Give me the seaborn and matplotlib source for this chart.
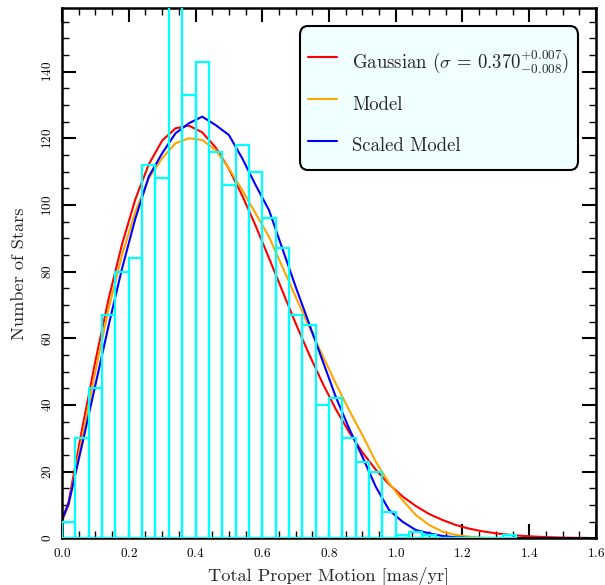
import matplotlib
matplotlib.use("Agg")
import matplotlib.pyplot as plt
import numpy as np
import seaborn as sns
from matplotlib.ticker import MultipleLocator

# histogram of total proper motions (counts per 0.04 mas/yr bin, left edges)
bin_left = [0.00, 0.04, 0.08, 0.12, 0.16, 0.20, 0.24, 0.28, 0.32, 0.36,
            0.40, 0.44, 0.48, 0.52, 0.56, 0.60, 0.64, 0.68, 0.72, 0.76,
            0.80, 0.84, 0.88, 0.92, 0.96, 1.00, 1.04, 1.08, 1.12, 1.16,
            1.20, 1.24, 1.28, 1.32]
counts = [5, 30, 45, 67, 80, 84, 112, 108, 175, 133,
          143, 116, 106, 118, 110, 96, 87, 67, 64, 40,
          42, 30, 23, 20, 8, 1, 2, 1, 0, 0,
          0, 0, 0, 1]

# fitted curves, sampled at the bin centres
curve_x = [0.00, 0.02, 0.06, 0.10, 0.14, 0.18, 0.22, 0.26, 0.30, 0.34,
           0.38, 0.42, 0.46, 0.50, 0.54, 0.58, 0.62, 0.66, 0.70, 0.74,
           0.78, 0.82, 0.86, 0.90, 0.94, 0.98, 1.02, 1.06, 1.10, 1.14,
           1.18, 1.22, 1.26, 1.30, 1.34, 1.38, 1.42, 1.46, 1.50, 1.54,
           1.58]
gaussian = [5.5, 11, 32.7, 53.2, 72, 88.3, 101.8, 112.2, 119.3, 123,
            123.8, 121.8, 117.3, 110.9, 102.8, 93.8, 84.1, 74.3, 64.5, 55.3,
            46.7, 38.8, 31.9, 25.8, 20.6, 16.2, 12.6, 9.7, 7.3, 5.5,
            4.0, 2.9, 2.1, 1.5, 1.05, 0.73, 0.5, 0.34, 0.22, 0.15,
            0.1]
model = [5, 10, 30, 50, 69, 85, 98, 108, 114, 118.5,
         120, 119.5, 116.5, 111, 104.5, 97.5, 90.5, 81.5, 72.5, 63.5,
         55, 46.5, 38.5, 31, 23, 16.5, 11.5, 7, 4, 2,
         1, 0.5, 0.2, 0.1, 0, 0, 0, 0, 0, 0,
         0]
scaled_model = [5.5, 10.5, 28, 46, 64, 81, 96, 108.5, 115.5, 121.5,
                124.5, 126.5, 124, 121, 114, 106, 98.5, 87, 75.5, 64.5,
                53.5, 42.5, 33, 24.5, 15.5, 8.5, 5, 2.5, 1.5, 0.7,
                0.3, 0.1, 0, 0, 0, 0, 0, 0, 0, 0,
                0]

sns.set_style("ticks")
plt.rcParams["font.family"] = ["cmr10", "DejaVu Serif"]
plt.rcParams["mathtext.fontset"] = "cm"
plt.rcParams["axes.formatter.use_mathtext"] = True
plt.rcParams["axes.unicode_minus"] = False

fig = plt.figure(figsize=(6.05, 5.85), dpi=100)
ax = fig.add_axes([0.1025, 0.0798, 0.8826, 0.906])

sns.lineplot(x=curve_x, y=gaussian, color="red", linewidth=1.5, ax=ax,
             label=r"Gaussian ($\sigma\,=\,0.370^{+0.007}_{-0.008}$)")
sns.lineplot(x=curve_x, y=model, color="orange", linewidth=1.5, ax=ax,
             label="Model")
sns.lineplot(x=curve_x, y=scaled_model, color="blue", linewidth=1.5, ax=ax,
             label="Scaled Model")

bin_centres = np.array(bin_left) + 0.02
sns.histplot(x=bin_centres, weights=counts, binwidth=0.04, binrange=(0, 1.36),
             fill=False, color="cyan", linewidth=1.6, ax=ax, zorder=3)

ax.set_xlim(0, 1.6)
ax.set_ylim(0, 159)
ax.xaxis.set_major_locator(MultipleLocator(0.2))
ax.xaxis.set_minor_locator(MultipleLocator(0.05))
ax.yaxis.set_major_locator(MultipleLocator(20))
ax.yaxis.set_minor_locator(MultipleLocator(5))
ax.tick_params(which="both", direction="in", top=True, right=True,
               labelsize=9.5, colors="black")
ax.tick_params(which="major", length=10, width=1.5, pad=6)
ax.tick_params(which="minor", length=5, width=1.0)
for lab in ax.get_yticklabels():
    lab.set_rotation(90)
    lab.set_va("center")
for spine in ax.spines.values():
    spine.set_linewidth(1.8)
    spine.set_color("black")

ax.set_xlabel("Total Proper Motion [mas/yr]", fontsize=13.2, labelpad=5)
ax.set_ylabel("Number of Stars", fontsize=13.2, labelpad=10)

# blank tiny title gives the extra room above the first entry
leg = ax.legend(loc="upper right", fontsize=13.5, frameon=True, fancybox=True,
                facecolor="azure", edgecolor="black", framealpha=1,
                title=" ", title_fontsize=2,
                handlelength=1.55, handleheight=2.2, labelspacing=0.55,
                borderpad=0.45, borderaxespad=0.95, handletextpad=0.8)
leg.get_frame().set_linewidth(1.5)
leg.get_frame().set_boxstyle("round,pad=0,rounding_size=0.45")

fig.savefig("out.png", dpi=100)
